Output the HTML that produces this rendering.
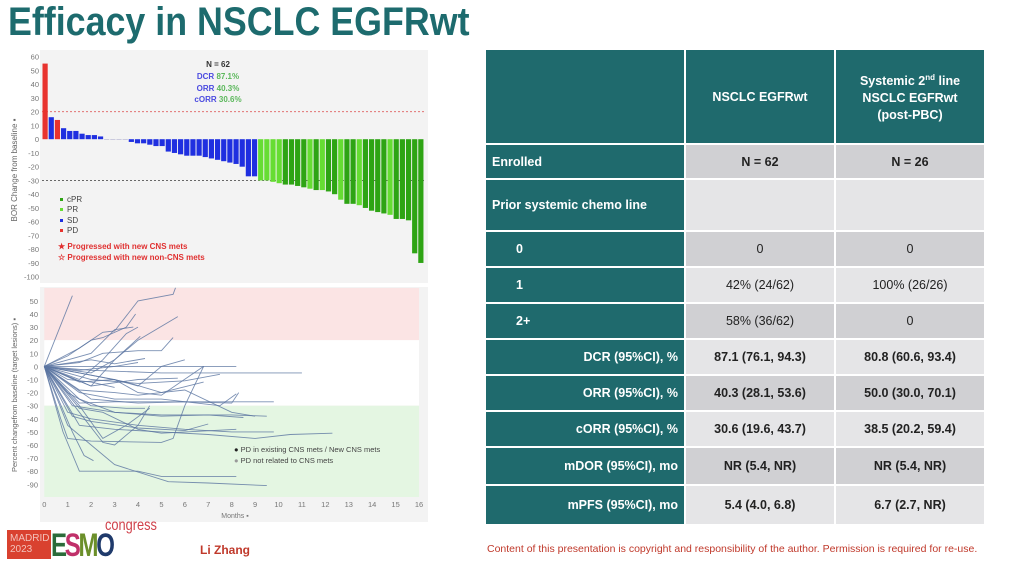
<!DOCTYPE html>
<html><head><meta charset="utf-8">
<style>
body{margin:0;width:1018px;height:568px;overflow:hidden;background:#fff;font-family:"Liberation Sans",Arial,sans-serif;position:relative}
.abs{position:absolute}
#title{left:8px;top:0px;font-size:40px;font-weight:bold;color:#1d6b6e;transform:scaleX(0.895);transform-origin:left;white-space:nowrap}
table{position:absolute;left:484px;top:48px;border-collapse:separate;border-spacing:2px;font-weight:bold;font-size:12.5px}
td{padding:0 6px}
td.h{background:#1f6a6d;color:#fff}
td.d1{background:#d0d0d3;color:#222;text-align:center}
td.d2{background:#e5e5e7;color:#222;text-align:center}
</style></head><body>
<div id="title" class="abs">Efficacy in NSCLC EGFRwt</div>

<svg class="abs" style="left:0;top:0" width="480" height="568">
<g id="wf"></g>
<g id="sp"></g>
</svg>

<table>
<tr style="height:93px"><td class="h" style="width:186px"></td><td class="h" style="width:136px;text-align:center">NSCLC EGFRwt</td><td class="h" style="width:136px;text-align:center;line-height:17px">Systemic 2<sup style="font-size:8px">nd</sup> line<br>NSCLC EGFRwt<br>(post-PBC)</td></tr>
<tr style="height:33px"><td class="h">Enrolled</td><td class="d1">N = 62</td><td class="d1">N = 26</td></tr>
<tr style="height:50px"><td class="h">Prior systemic chemo line</td><td class="d2"></td><td class="d2"></td></tr>
<tr style="height:34px"><td class="h" style="padding-left:30px">0</td><td class="d1" style="font-weight:normal">0</td><td class="d1" style="font-weight:normal">0</td></tr>
<tr style="height:34px"><td class="h" style="padding-left:30px">1</td><td class="d2" style="font-weight:normal">42% (24/62)</td><td class="d2" style="font-weight:normal">100% (26/26)</td></tr>
<tr style="height:34px"><td class="h" style="padding-left:30px">2+</td><td class="d1" style="font-weight:normal">58% (36/62)</td><td class="d1" style="font-weight:normal">0</td></tr>
<tr style="height:34px"><td class="h" style="text-align:right">DCR (95%CI), %</td><td class="d2">87.1 (76.1, 94.3)</td><td class="d2">80.8 (60.6, 93.4)</td></tr>
<tr style="height:34px"><td class="h" style="text-align:right">ORR (95%CI), %</td><td class="d1">40.3 (28.1, 53.6)</td><td class="d1">50.0 (30.0, 70.1)</td></tr>
<tr style="height:34px"><td class="h" style="text-align:right">cORR (95%CI), %</td><td class="d2">30.6 (19.6, 43.7)</td><td class="d2">38.5 (20.2, 59.4)</td></tr>
<tr style="height:36px"><td class="h" style="text-align:right">mDOR (95%CI), mo</td><td class="d1">NR (5.4, NR)</td><td class="d1">NR (5.4, NR)</td></tr>
<tr style="height:38px"><td class="h" style="text-align:right">mPFS (95%CI), mo</td><td class="d2">5.4 (4.0, 6.8)</td><td class="d2">6.7 (2.7, NR)</td></tr>
</table>

<div class="abs" style="left:487px;top:543px;font-size:10.5px;color:#c0392b">Content of this presentation is copyright and responsibility of the author. Permission is required for re-use.</div>

<div class="abs" style="left:7px;top:530px;width:44px;height:29px;background:#d9412f;color:#f3c2bb;font-size:10px;line-height:11px;padding:3px 0 0 3px;box-sizing:border-box">MADRID<br>2023</div>
<div class="abs" style="left:51px;top:527px;font-size:32px;font-weight:bold;letter-spacing:-3px;transform:scaleX(0.75);transform-origin:left"><span style="color:#2b6b3a">E</span><span style="color:#c0306a">S</span><span style="color:#6b8f2a">M</span><span style="color:#1f3a6b">O</span></div>
<div class="abs" style="left:105px;top:517px;font-size:16px;color:#d0404a;transform:scaleX(0.8);transform-origin:left">congress</div>
<div class="abs" style="left:200px;top:543px;font-size:12px;font-weight:bold;color:#c0392b">Li Zhang</div>

<script>
const NS="http://www.w3.org/2000/svg";
function mk(p,t,a,txt){const e=document.createElementNS(NS,t);for(const k in a)e.setAttribute(k,a[k]);if(txt!==undefined)e.textContent=txt;p.appendChild(e);return e;}

// ---------- Waterfall data ----------
const wfValues=[55,16,14,8,6,6,4,3,3,2,0,0,0,0,-2,-3,-3,-4,-5,-5,-9,-10,-11,-12,-12,-12,-13,-14,-15,-16,-17,-18,-20,-27,-27,-30,-30,-31,-32,-33,-33,-34,-35,-36,-37,-37,-38,-40,-44,-47,-47,-48,-50,-52,-53,-54,-55,-58,-58,-59,-83,-90];
const wfTypes=["PD","SD","PD","SD","SD","SD","SD","SD","SD","SD","SD","SD","SD","SD","SD","SD","SD","SD","SD","SD","SD","SD","SD","SD","SD","SD","SD","SD","SD","SD","SD","SD","SD","SD","SD","PR","PR","PR","PR","cPR","cPR","cPR","cPR","PR","cPR","PR","cPR","cPR","PR","cPR","cPR","PR","cPR","cPR","cPR","cPR","PR","cPR","cPR","cPR","cPR","cPR"];
const wfTicks=[60,50,40,30,20,10,0,-10,-20,-30,-40,-50,-60,-70,-80,-90,-100];
const wfColors={PD:"#e8332e",SD:"#1f2fe0",PR:"#66dd33",cPR:"#2ea414"};

const wf=document.getElementById('wf');
const wy=v=>139.2-v*1.375;
const wx=i=>42.5+i*6.16;
let r=mk(wf,'rect',{x:40,y:50,width:388,height:233,fill:'#f3f3f3'});

wfTicks.forEach(t=>{const e=mk(wf,'text',{x:39,y:wy(t)+3,'text-anchor':'end','font-size':7.5,fill:'#777'},t);
});
let l=mk(wf,'line',{x1:42,x2:424,y1:wy(20),y2:wy(20),stroke:'#e06060','stroke-width':0.8,'stroke-dasharray':'2,2'});

l=mk(wf,'line',{x1:42,x2:424,y1:wy(-30),y2:wy(-30),stroke:'#555','stroke-width':0.8,'stroke-dasharray':'2,2'});

wfValues.forEach((v,i)=>{
  const y0=wy(0),y1=wy(v);
  const b=mk(wf,'rect',{x:wx(i),y:Math.min(y0,y1),width:5.2,height:Math.max(Math.abs(y1-y0),0.6),fill:v===0?'#b0b0d0':wfColors[wfTypes[i]]});
  
});
let t=mk(wf,'text',{x:17,y:170,transform:'rotate(-90 17 170)','text-anchor':'middle','font-size':8,fill:'#666'},'BOR Change from baseline ▪');

[["N = 62","#333","",67],["DCR ","#4a4ae0","87.1%",79],["ORR ","#4a4ae0","40.3%",91],["cORR ","#4a4ae0","30.6%",102]].forEach(a=>{
  const e=mk(wf,'text',{x:218,y:a[3],'text-anchor':'middle','font-size':8,'font-weight':'bold',fill:a[1]},a[0]);
  if(a[2]){mk(e,'tspan',{fill:'#5cb85c'},a[2]);}
  
});
[["cPR","#2ea414",202],["PR","#66dd33",212],["SD","#1f2fe0",223],["PD","#e8332e",233]].forEach(a=>{
  const g=mk(wf,'g',{});
  mk(g,'rect',{x:60,y:a[2]-4,width:3,height:3,fill:a[1]});mk(g,'text',{x:67,y:a[2],'font-size':8,fill:'#444'},a[0]);
});
[["★ Progressed with new CNS mets",249],["☆ Progressed with new non-CNS mets",260]].forEach(a=>{
  const e=mk(wf,'text',{x:58,y:a[1],'font-size':8,'font-weight':'bold',fill:'#e03030'},a[0]);
  
});

// ---------- Spider data ----------
const spMonths=[[0,1.2],[0,1.5,2.5,3,4,5.5,5.6],[0,1,2,2.5,3.5,3.9],[0,1.5,2.5,3.5,4],[0,2,3,4.1],[0,1.5,2.5,4,5,5.5],[0,2,3,4,5.7],[0,2,3,3.8],[0,1.5,3,4,5,6],[0,8.2],[0,2,5,11],[0,1.5,3,4,5,6.8],[0,1.5,3,6,9.8],[0,1.2,3,5,8,9.5],[0,1,2,4,6,8,9.8],[0,1.5,3,5,7,9,10.5,12.3],[0,0.7,1,2,5,5.5,6,6.8],[0,0.8,1.5,4,5,8.2],[0,1,2,3,5.3,7,9.5],[0,1.2,1.7,2.1],[0,1.5,2.5,3.5,4.5],[0,1,2,3.5,4.3],[0,2,4,6,8,8.3],[0,1.5,3,5,7.5,8.2],[0,1.2,2,4,6,7],[0,1.5,3,5,7,8.5],[0,2,4,6,7.5],[0,2,4,5.7],[0,1.5,3,4,5,6.8],[0,1.5,2.5,4,5,8.2],[0,1,2,3],[0,2,3,4.3],[0,1.5,2.5,3,4,4.5],[0,1.5,3,4],[0,1.5,3.5,5,6,8,9]];
const spValues=[[0,54],[0,14,26,27,50,55,60],[0,8,20,22,30,40],[0,-10,5,25,30],[0,-15,5,23],[0,3,10,12,12,22],[0,-5,5,20,38],[0,10,28,30],[0,-12,-10,-15,0,5],[0,0],[0,-3,-5,-5],[0,-5,-10,-20,-22,0],[0,-28,-27,-27,-27],[0,-30,-35,-37,-37,-38],[0,-35,-40,-45,-48,-50,-50],[0,-45,-48,-50,-52,-55,-52,-51],[0,-40,-55,-57,-58,-55,-30,0],[0,-50,-80,-80,-84,-84],[0,-45,-60,-75,-88,-89,-91],[0,-50,-68,-72],[0,-30,-55,-45,-32],[0,-20,-30,-32,-32],[0,-25,-28,-27,-28,-20],[0,-20,-25,-25,-30,-21],[0,-38,-42,-47,-49,-44],[0,-25,-35,-38,-37,-39],[0,-10,-13,-11,-6],[0,-15,-10,-9],[0,-18,-20,-22,-20,-12],[0,-32,-35,-48,-51,-48],[0,-10,-12,-16],[0,5,2,6],[0,-35,-58,-60,-45,-30],[0,-3,0,3],[0,-5,-12,-20,-18,-35,-38]];
const spYTicks=[50,40,30,20,10,0,-10,-20,-30,-40,-50,-60,-70,-80,-90];
const spXTicks=[0,1,2,3,4,5,6,7,8,9,10,11,12,13,14,15,16];

const sp=document.getElementById('sp');
const sy=v=>366.4-v*1.31;
const sx=m=>44.3+m*23.42;
r=mk(sp,'rect',{x:40,y:287,width:388,height:235,fill:'#f3f3f3'});

r=mk(sp,'rect',{x:sx(0),y:288,width:sx(16)-sx(0),height:sy(20)-288,fill:'#fbe4e4'});

r=mk(sp,'rect',{x:sx(0),y:sy(20),width:sx(16)-sx(0),height:sy(-30)-sy(20),fill:'#ffffff'});

r=mk(sp,'rect',{x:sx(0),y:sy(-30),width:sx(16)-sx(0),height:497-sy(-30),fill:'#e4f6e2'});

spYTicks.forEach(v=>{const e=mk(sp,'text',{x:38,y:sy(v)+3,'text-anchor':'end','font-size':7.5,fill:'#777'},v);
});
spXTicks.forEach(m=>{const e=mk(sp,'text',{x:sx(m),y:507,'text-anchor':'middle','font-size':7.5,fill:'#777'},m);
});
t=mk(sp,'text',{x:235,y:518,'text-anchor':'middle','font-size':7,fill:'#777'},'Months ▪');

t=mk(sp,'text',{x:17,y:395,transform:'rotate(-90 17 395)','text-anchor':'middle','font-size':7.5,fill:'#666'},'Percent changefrom baseline (target lesions) ▪');

spMonths.forEach((ms,i)=>{
  const pts=ms.map((m,j)=>sx(m).toFixed(1)+','+sy(spValues[i][j]).toFixed(1)).join(' ');
  const p=mk(sp,'polyline',{points:pts,fill:'none',stroke:'#5a74a0','stroke-width':0.9,'stroke-opacity':0.8});
  
});
[["● PD in existing CNS mets / New CNS mets","#222",452],["● PD not related to CNS mets","#999",463]].forEach(a=>{
  const e=mk(sp,'text',{x:234,y:a[2],'font-size':7.5,fill:'#444'});
  mk(e,'tspan',{fill:a[1]},'●');mk(e,'tspan',{},a[0].slice(1));
  
});
</script>
</body></html>
